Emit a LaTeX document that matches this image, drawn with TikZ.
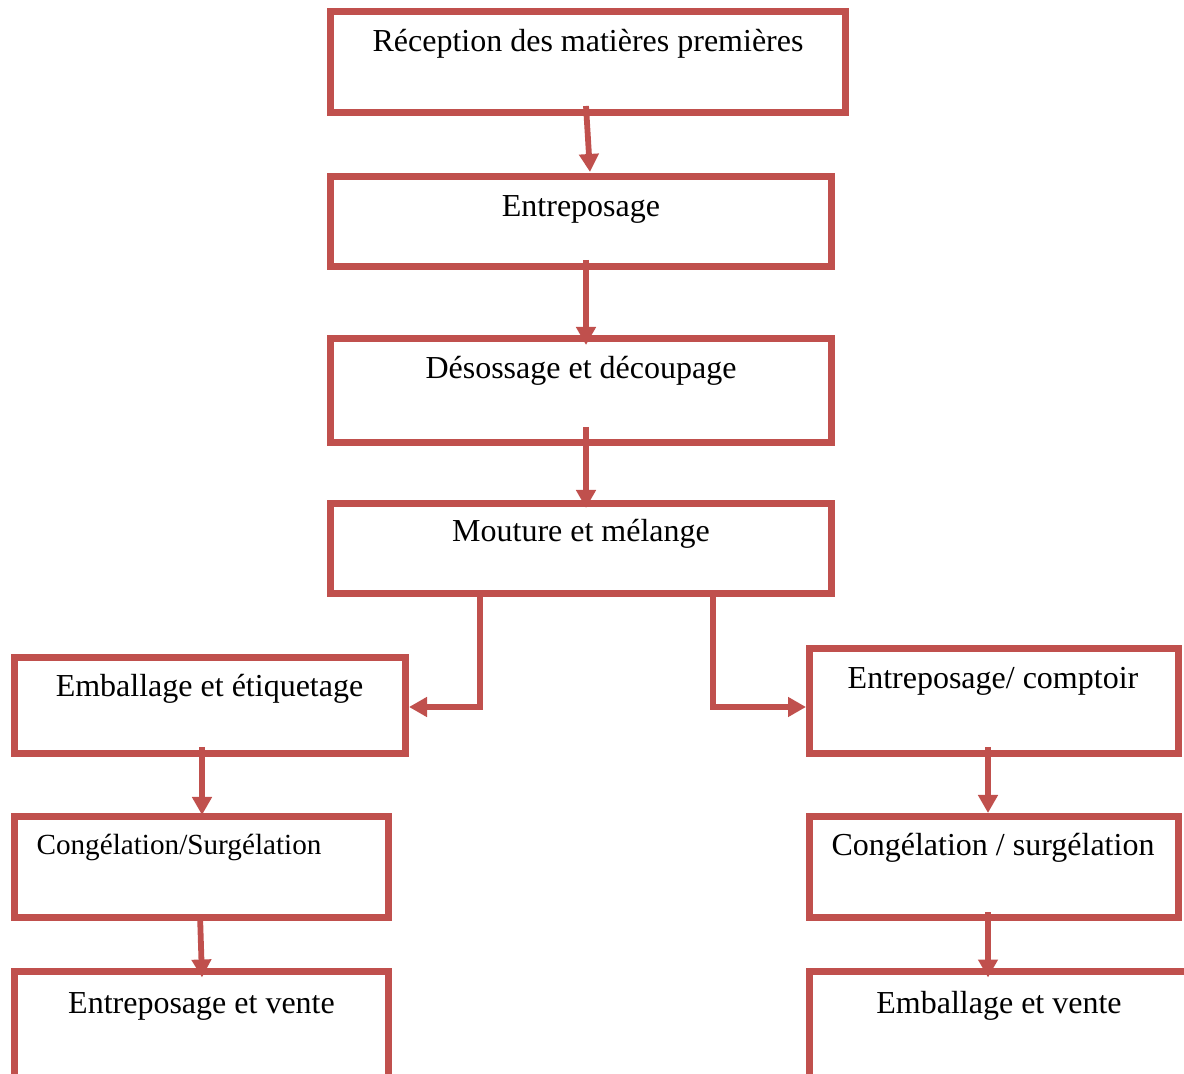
\documentclass[tikz,border=0pt]{standalone}
\usepackage{fontspec}
\setmainfont{Liberation Serif}
\usetikzlibrary{arrows.meta,calc}
\definecolor{boxred}{HTML}{C0504D}
\begin{document}
\begin{tikzpicture}[x=0.5pt,y=-0.5pt,
  box/.style={draw=boxred,line width=3.5pt,inner sep=0pt,outer sep=0pt,fill=white},
  lbl/.style={anchor=base,inner sep=0pt,font=\fontsize{16pt}{19pt}\selectfont},
  lbls/.style={anchor=base,inner sep=0pt,font=\fontsize{14.6pt}{17pt}\selectfont},
  arr/.style={draw=boxred,line width=2.9pt,-{Triangle[length=9pt,width=9.5pt]}}]
\useasboundingbox (0,0) rectangle (1184,1074);
\clip (0,0) rectangle (1184,1074);
% boxes
\node[box,minimum width=257.5pt,minimum height=50.5pt] (b1) at (588,62) {};
\node[box,minimum width=250.5pt,minimum height=45pt] (b2) at (581,221.5) {};
\node[box,minimum width=250.5pt,minimum height=52pt] (b3) at (581,390.5) {};
\node[box,minimum width=250.5pt,minimum height=45pt] (b4) at (581,548.5) {};
\node[box,minimum width=195.5pt,minimum height=48pt] (b5) at (210,705.5) {};
\node[box,minimum width=187pt,minimum height=50.5pt] (b6) at (201.5,867) {};
\node[box,minimum width=187pt,minimum height=64.25pt] (b7) at (201.5,1035.75) {};
\node[box,minimum width=184.5pt,minimum height=52.5pt] (c5) at (994,701) {};
\node[box,minimum width=184.5pt,minimum height=50.5pt] (c6) at (994,867) {};
\node[box,minimum width=195.25pt,minimum height=64.25pt] (c7) at (1004.75,1035.75) {};
% texts
\node[lbl] (t1) at (588,52) {Réception des matières premières};
\node[lbl] (t2) at (581,217) {Entreposage};
\node[lbl] (t3) at (581,379) {Désossage et découpage};
\node[lbl] (t4) at (581,542) {Mouture et mélange};
\node[lbl] (t5) at (209.5,697) {Emballage et étiquetage};
\node[lbls] (t6) at (179,855) {Congélation/Surgélation};
\node[lbl] (t7) at (201.5,1013) {Entreposage et vente};
\node[lbl] (u5) at (993,689) {Entreposage/ comptoir};
\node[lbl] (u6) at (993,856) {Congélation / surgélation};
\node[lbl] (u7) at (999,1013) {Emballage et vente};
% connectors
\draw[arr] ($(b1.south)+(-2,-6.5)$) -- ($(b2.north)+(9,-4.5)$);
\draw[arr] ($(b2.south)+(5,-6.5)$) -- ($(b3.north)+(5,6.5)$);
\draw[arr] ($(b3.south)+(5,-15.5)$) -- ($(b4.north)+(5,4.5)$);
\draw[arr] ($(b4.south)+(-101,0)$) |- ($(b5.east)+(3.5,1.5)$);
\draw[arr] ($(b4.south)+(132,0)$) |- ($(c5.west)+(-3.5,6)$);
\draw[arr] ($(b5.south)+(-8,-6.5)$) -- ($(b6.north)+(0.5,-1.5)$);
\draw[arr] ($(b6.south)+(-1.5,-3)$) -- ($(b7.north)+(0.5,6)$);
\draw[arr] ($(c5.south)+(-6,-6.5)$) -- ($(c6.north)+(-6,-3.5)$);
\draw[arr] ($(c6.south)+(-6,-5.5)$) -- ($(c7.north west)+(178.5,6)$);
\end{tikzpicture}
\end{document}
